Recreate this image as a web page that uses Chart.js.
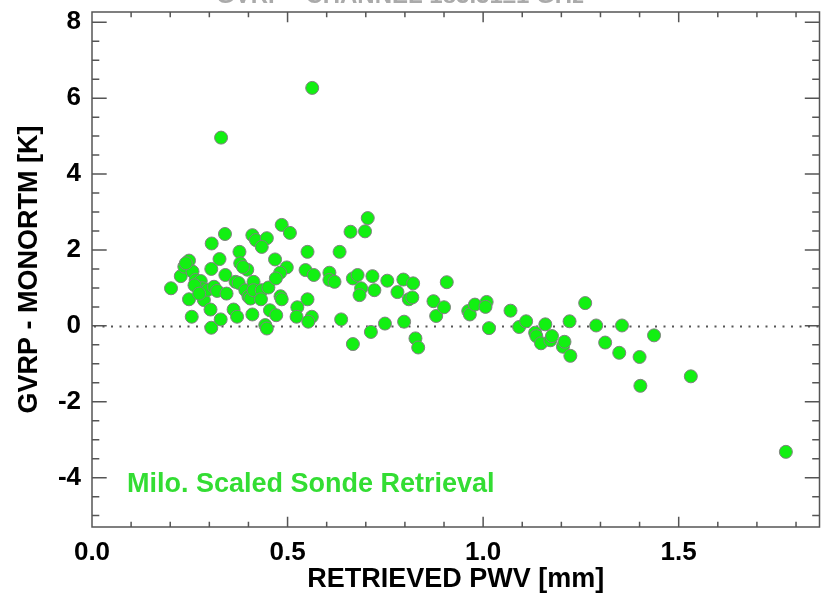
<!DOCTYPE html>
<html>
<head>
<meta charset="utf-8">
<script src="https://cdn.jsdelivr.net/npm/chart.js@4"></script>
<style>
  html, body { margin: 0; padding: 0; background: #fff; }
  #wrap { width: 827px; height: 595px; }
</style>
</head>
<body>
<div id="wrap"><canvas id="scatter-chart" width="827" height="595"></canvas></div>
<script>
// retrieved PWV [mm] and GVRP - MONORTM [K]
const pwv = [
  0.202, 0.227, 0.236, 0.248, 0.257, 0.248, 0.255, 0.265, 0.278, 0.282,
  0.286, 0.262, 0.296, 0.303, 0.305, 0.306, 0.305, 0.312, 0.320, 0.326,
  0.329, 0.330, 0.340, 0.341, 0.344, 0.362, 0.367, 0.371, 0.377, 0.379,
  0.397, 0.386, 0.375, 0.392, 0.400, 0.405, 0.410, 0.410, 0.419, 0.447,
  0.434, 0.413, 0.413, 0.434, 0.451, 0.432, 0.455, 0.471, 0.443, 0.447,
  0.468, 0.498, 0.481, 0.470, 0.485, 0.506, 0.482, 0.485, 0.525, 0.523,
  0.551, 0.546, 0.567, 0.551, 0.562, 0.553, 0.563, 0.607, 0.607, 0.620,
  0.633, 0.637, 0.661, 0.667, 0.679, 0.688, 0.684, 0.667, 0.705, 0.698,
  0.717, 0.722, 0.713, 0.749, 0.755, 0.781, 0.796, 0.798, 0.810, 0.819,
  0.821, 0.827, 0.834, 0.873, 0.880, 0.900, 0.907, 0.962, 0.966, 0.979,
  1.009, 1.006, 1.015, 1.070, 1.092, 1.110, 1.133, 1.136, 1.148, 1.159,
  1.172, 1.176, 1.204, 1.208, 1.221, 1.223, 1.261, 1.289, 1.312, 1.348,
  1.355, 1.400, 1.402, 1.437, 1.531, 1.774, 0.274, 0.240
];
const diff = [
  0.99, 1.31, 1.56, 1.72, 1.43, 0.70, 0.24, 1.21, 1.18, 0.99,
  0.68, 1.07, 0.95, 0.43, -0.05, 2.17, 1.50, 1.03, 0.92, 1.76,
  0.17, 4.96, 2.42, 1.34, 0.85, 0.43, 1.16, 0.24, 1.95, 1.65,
  1.48, 1.55, 1.13, 0.94, 0.77, 0.72, 0.30, 2.39, 2.26, 2.31,
  2.08, 1.16, 0.94, 0.94, 1.01, 0.70, 0.41, 0.28, 0.02, -0.07,
  1.75, 1.54, 1.40, 1.25, 2.66, 2.45, 0.78, 0.70, 0.49, 0.24,
  1.95, 1.47, 1.34, 0.70, 0.24, 0.11, 6.27, 1.40, 1.21, 1.16,
  1.95, 0.17, 2.48, 1.25, 1.34, 0.99, 0.81, -0.48, 2.84, 2.49,
  1.31, 0.94, -0.16, 0.06, 1.19, 0.89, 1.22, 0.11, 0.70, 0.75,
  1.12, -0.33, -0.57, 0.65, 0.26, 0.49, 1.15, 0.39, 0.30, 0.56,
  0.63, 0.50, -0.06, 0.40, -0.03, 0.12, -0.18, -0.27, -0.46, 0.04,
  -0.38, -0.27, -0.55, -0.42, 0.12, -0.79, 0.60, 0.01, -0.44, -0.71,
  0.01, -0.82, -1.58, -0.25, -1.33, -3.32, 0.85, 1.65
];
const xTicks = [0.0, 0.5, 1.0, 1.5];
const yTicks = [-4, -2, 0, 2, 4, 6, 8];
const xRange = [0, 1.86];
const yRange = [-5.3, 8.27];

const tickFont = { family: 'Liberation Sans', size: 26, weight: 'bold' };
const titleFont = { family: 'Liberation Sans', size: 27, weight: 'bold', lineHeight: 1.1 };

// IDL style box: ticks pointing inward on all four sides, dotted zero line
const idlFrame = {
  id: 'idlFrame',
  beforeDatasetsDraw(chart) {
    const { ctx, chartArea: a, scales: { y } } = chart;
    const y0 = Math.round(y.getPixelForValue(0)) + 0.5;
    ctx.save();
    ctx.fillStyle = '#555';
    for (let px = a.left + 3; px < a.right; px += 8.5) {
      ctx.fillRect(px - 1, y0 - 1, 2, 2);
    }
    ctx.restore();
  },
  afterDraw(chart) {
    const { ctx, chartArea: a, scales: { x, y } } = chart;
    ctx.save();
    ctx.strokeStyle = '#555';
    ctx.lineWidth = 1.5;
    ctx.strokeRect(a.left, a.top, a.right - a.left, a.bottom - a.top);
    ctx.beginPath();
    for (let i = 0; i * 0.1 <= xRange[1] + 1e-9; i++) {
      const px = x.getPixelForValue(i * 0.1);
      if (px <= a.left + 1 || px >= a.right - 1) continue;
      const len = i % 5 === 0 ? 10.3 : 5.2;
      ctx.moveTo(px, a.bottom); ctx.lineTo(px, a.bottom - len);
      ctx.moveTo(px, a.top); ctx.lineTo(px, a.top + len);
    }
    for (let i = -10; i <= 16; i++) {
      const py = y.getPixelForValue(i / 2);
      if (py <= a.top + 1 || py >= a.bottom - 1) continue;
      const len = i % 4 === 0 ? 14.7 : 7.3;
      ctx.moveTo(a.left, py); ctx.lineTo(a.left + len, py);
      ctx.moveTo(a.right, py); ctx.lineTo(a.right - len, py);
    }
    ctx.stroke();

    // label inside the plot
    ctx.fillStyle = '#33dd33';
    ctx.font = 'bold 27px "Liberation Sans"';
    ctx.textBaseline = 'middle';
    ctx.fillText('Milo. Scaled Sonde Retrieval', 127, 485);

    // title, mostly above the top edge of the picture
    ctx.fillStyle = '#aaa';
    ctx.font = 'bold 24px "Liberation Sans"';
    ctx.textAlign = 'center';
    ctx.textBaseline = 'alphabetic';
    ctx.fillText('GVRP - CHANNEL 183.31\u00b11 GHz', 400, 3);
    ctx.restore();
  }
};

document.addEventListener('DOMContentLoaded', () => {
    const ctx = document.getElementById('scatter-chart').getContext('2d');
    const points = pwv.map((v, i) => ({ x: v, y: diff[i] }));
    new Chart(ctx, {
        type: 'scatter',
        data: {
            datasets: [{
                label: 'Milo. Scaled Sonde Retrieval',
                data: points,
                backgroundColor: '#12f012',
                borderColor: '#808080',
                borderWidth: 1,
                pointRadius: 6.5,
                pointHoverRadius: 6.5
            }]
        },
        options: {
            responsive: false,
            animation: false,
            events: [],
            layout: { padding: { top: 12, right: 1, left: 0, bottom: 0 } },
            plugins: {
                legend: { display: false },
                tooltip: { enabled: false }
            },
            scales: {
                x: {
                    type: 'linear',
                    min: xRange[0],
                    max: xRange[1],
                    afterFit: (s) => { s.height = 68; s.paddingLeft = 0; s.paddingRight = 0; },
                    afterBuildTicks: (s) => { s.ticks = xTicks.map(v => ({ value: v })); },
                    grid: { display: false, drawTicks: false },
                    border: { display: false },
                    ticks: {
                        padding: 10,
                        color: '#000',
                        font: tickFont,
                        callback: (v) => Number(v).toFixed(1)
                    },
                    title: {
                        display: true,
                        text: 'RETRIEVED PWV [mm]',
                        color: '#000',
                        font: titleFont,
                        padding: { top: 0, bottom: 1 }
                    }
                },
                y: {
                    type: 'linear',
                    min: yRange[0],
                    max: yRange[1],
                    afterFit: (s) => { s.width = 92; s.paddingTop = 0; s.paddingBottom = 0; },
                    afterBuildTicks: (s) => { s.ticks = yTicks.map(v => ({ value: v })); },
                    grid: { display: false, drawTicks: false },
                    border: { display: false },
                    ticks: {
                        padding: 11,
                        color: '#000',
                        font: tickFont,
                        callback: (v) => String(v)
                    },
                    title: {
                        display: true,
                        text: 'GVRP - MONORTM [K]',
                        color: '#000',
                        font: titleFont,
                        padding: { top: 15, bottom: 0 }
                    }
                }
            }
        },
        plugins: [idlFrame]
    });
});
</script>
</body>
</html>
